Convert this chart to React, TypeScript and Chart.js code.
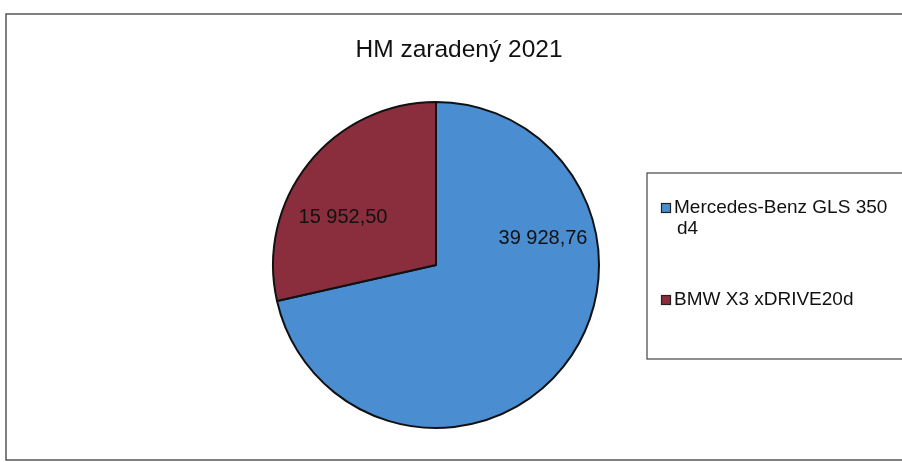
import React, { useEffect, useRef } from "react";
import { Chart, registerables } from "chart.js";

Chart.register(...registerables);

const title = "HM zaradený 2021";
const categories = ["Mercedes-Benz GLS 350 d4", "BMW X3 xDRIVE20d"];
const legendLines = [["Mercedes-Benz GLS 350", "d4"], ["BMW X3 xDRIVE20d"]];
const values = [39928.76, 15952.5];
const valueLabels = ["39 928,76", "15 952,50"];
const colors = ["#4a8dd0", "#8a2e3e"];

const FONT = "'Liberation Sans', Arial, sans-serif";

const decorPlugin = {
  id: "decor",
  beforeDraw(chart: any) {
    const ctx = chart.ctx;
    ctx.save();
    ctx.fillStyle = "#ffffff";
    ctx.fillRect(0, 0, chart.width, chart.height);
    ctx.strokeStyle = "#555555";
    ctx.lineWidth = 1.5;
    ctx.strokeRect(6, 14, 1000, 446);
    ctx.restore();
  },
  afterDraw(chart: any) {
    const ctx = chart.ctx;
    ctx.save();
    // title
    ctx.fillStyle = "#111111";
    ctx.font = `24.5px ${FONT}`;
    ctx.textAlign = "center";
    ctx.textBaseline = "middle";
    ctx.fillText(title, 459, 50);

    // data labels
    const meta = chart.getDatasetMeta(0);
    const labelPos = [
      { dx: 107, dy: -27 },
      { dx: -93, dy: -48 },
    ];
    ctx.font = `20px ${FONT}`;
    meta.data.forEach((arc: any, i: number) => {
      const p = arc.getProps(["x", "y"], true);
      ctx.fillText(valueLabels[i], p.x + labelPos[i].dx, p.y + labelPos[i].dy);
    });

    // legend box
    ctx.strokeStyle = "#444444";
    ctx.lineWidth = 1.2;
    ctx.strokeRect(647, 173, 260, 186);
    const rows = [208, 300];
    ctx.textAlign = "left";
    ctx.font = `19px ${FONT}`;
    legendLines.forEach((lines, i) => {
      const y = rows[i];
      ctx.fillStyle = colors[i];
      ctx.fillRect(661.5, y - 4.5, 9, 9);
      ctx.strokeStyle = "#222222";
      ctx.lineWidth = 1.2;
      ctx.strokeRect(661.5, y - 4.5, 9, 9);
      ctx.fillStyle = "#111111";
      lines.forEach((t, j) => {
        ctx.fillText(t, j === 0 ? 674 : 677, y + j * 21);
      });
    });
    ctx.restore();
  },
};

export default function App() {
  const ref = useRef<HTMLCanvasElement>(null);
  useEffect(() => {
    if (!ref.current) return;
    const chart = new Chart(ref.current, {
      type: "pie",
      data: {
        labels: categories,
        datasets: [
          {
            data: values,
            backgroundColor: colors,
            borderColor: "#111111",
            borderWidth: 2,
          },
        ],
      },
      options: {
        animation: false,
        responsive: false,
        events: [],
        layout: { padding: { left: 272, right: 302, top: 101, bottom: 33 } },
        plugins: {
          legend: { display: false },
          tooltip: { enabled: false },
          title: { display: false },
        },
      },
      plugins: [decorPlugin],
    });
    return () => chart.destroy();
  }, []);
  return (
    <div style={{ position: "absolute", left: 0, top: 0, width: 902, height: 462 }}>
      <canvas ref={ref} width={902} height={462} style={{ display: "block" }} />
    </div>
  );
}
